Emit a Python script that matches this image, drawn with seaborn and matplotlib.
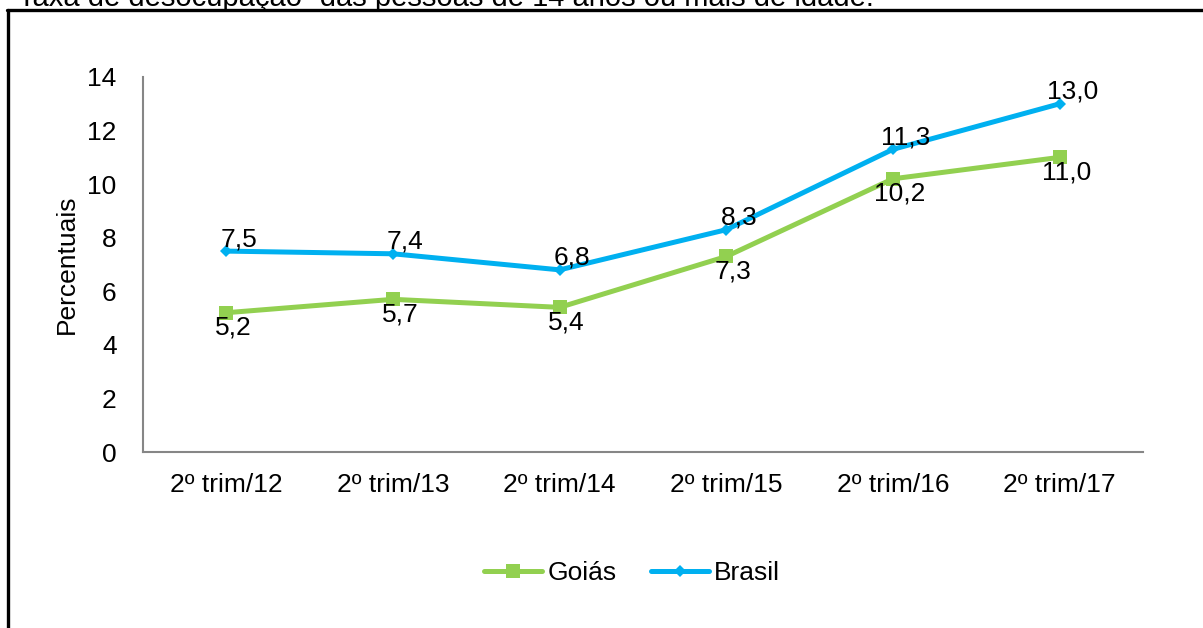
import matplotlib
matplotlib.use("Agg")
import matplotlib.pyplot as plt
from matplotlib.lines import Line2D
import pandas as pd
import seaborn as sns

periodos = ["2º trim/12", "2º trim/13", "2º trim/14", "2º trim/15", "2º trim/16", "2º trim/17"]
goias = [5.2, 5.7, 5.4, 7.3, 10.2, 11.0]
brasil = [7.5, 7.4, 6.8, 8.3, 11.3, 13.0]
y_ticks = [0, 2, 4, 6, 8, 10, 12, 14]

sns.set_style("white")
plt.rcParams["font.family"] = ["Liberation Sans", "DejaVu Sans"]
plt.rcParams["text.color"] = "black"
plt.rcParams["axes.labelcolor"] = "black"

df = pd.DataFrame({
    "periodo": periodos * 2,
    "pos": list(range(len(periodos))) * 2,
    "valor": goias + brasil,
    "serie": ["Goiás"] * len(periodos) + ["Brasil"] * len(periodos),
})

cores = {"Goiás": "#92D050", "Brasil": "#00B0F0"}
marcadores = {"Goiás": "s", "Brasil": "D"}
tam_marc = {"Goiás": 10, "Brasil": 6.5}
FS = 19

fig = plt.figure(figsize=(12.03, 6.28), dpi=100)
ax = fig.add_axes([143 / 1203, 1 - 452 / 628, 1000 / 1203, 375 / 628])

for serie in ["Goiás", "Brasil"]:
    sub = df[df["serie"] == serie]
    sns.lineplot(data=sub, x="pos", y="valor", ax=ax, color=cores[serie],
                 linewidth=3.6, marker=marcadores[serie],
                 markersize=tam_marc[serie], markeredgewidth=0, label=serie)

# data labels
for i, v in enumerate(brasil):
    ax.annotate(f"{v:.1f}".replace(".", ","), (i, v), xytext=(9, 0),
                textcoords="offset points", ha="center", va="bottom", fontsize=FS)
for i, v in enumerate(goias):
    ax.annotate(f"{v:.1f}".replace(".", ","), (i, v), xytext=(5, -2),
                textcoords="offset points", ha="center", va="top", fontsize=FS)

ax.set_xlim(-0.5, len(periodos) - 0.5)
ax.set_ylim(0, 14)
ax.set_xticks(range(len(periodos)))
ax.set_xticklabels(periodos)
ax.set_yticks(y_ticks)
ax.set_yticklabels([str(t) for t in y_ticks])
ax.tick_params(axis="both", length=0, labelsize=FS, colors="black")
ax.tick_params(axis="y", pad=19)
ax.tick_params(axis="x", pad=15)
ax.set_xlabel("")
ax.set_ylabel("Percentuais", fontsize=FS, labelpad=6)

for s in ["top", "right"]:
    ax.spines[s].set_visible(False)
for s in ["left", "bottom"]:
    ax.spines[s].set_color("#868686")
    ax.spines[s].set_linewidth(1.5)

handles = [
    Line2D([], [], color=cores["Goiás"], lw=3.6, marker="s", markersize=10, markeredgewidth=0),
    Line2D([], [], color=cores["Brasil"], lw=3.6, marker="D", markersize=6.5, markeredgewidth=0),
]
ax.legend(handles, ["Goiás", "Brasil"], loc="center", bbox_to_anchor=(632 / 1203, 1 - 573 / 628),
          bbox_transform=fig.transFigure, ncol=2, frameon=False, fontsize=FS,
          handlelength=2.2, handletextpad=0.2, columnspacing=1.3)

# frame around the chart area
fig.add_artist(Line2D([7 / 1203, 1.0], [1 - 10 / 628, 1 - 10 / 628], color="black", lw=2.4,
                      transform=fig.transFigure))
fig.add_artist(Line2D([8 / 1203, 8 / 1203], [0, 1 - 10 / 628], color="black", lw=2.4,
                      transform=fig.transFigure))

fig.text(18 / 1203, 1 - 6 / 628, "Taxa de desocupação¹ das pessoas de 14 anos ou mais de idade.",
         fontsize=21, ha="left", va="baseline")

fig.savefig("out.png", dpi=100)
